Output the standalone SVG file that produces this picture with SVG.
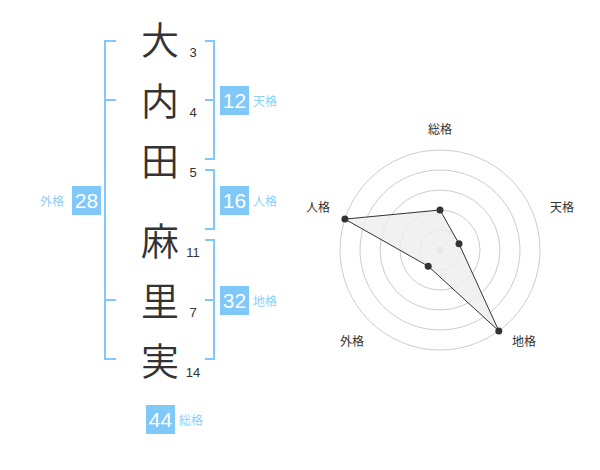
<svg xmlns="http://www.w3.org/2000/svg" width="600" height="470" viewBox="0 0 600 470">
<style>
.k{font-family:"Noto Sans CJK JP","Noto Sans CJK SC",sans-serif;font-size:38px;font-weight:350;fill:#333;text-anchor:middle}
.n{font-family:"Liberation Sans",Arial,sans-serif;font-size:13px;fill:#333;text-anchor:middle}
.br{fill:none;stroke:#80c8f8;stroke-width:2}
.bx{fill:#80c8f8}
.bt{font-family:"Liberation Sans",Arial,sans-serif;font-size:21px;fill:#fff;text-anchor:middle}
.lb{font-family:"Noto Sans CJK JP","Noto Sans CJK SC",sans-serif;font-size:12px;fill:#8ccff8}
.rl{font-family:"Noto Sans CJK JP","Noto Sans CJK SC",sans-serif;font-size:12px;fill:#333;text-anchor:middle}
.ring{fill:none;stroke:#ccc;stroke-width:1}
.pt{fill:#333}
</style>
<rect width="600" height="470" fill="#fff"/>
<g id="chars">
<text class="k" x="160" y="54">大</text>
<text class="k" x="160" y="115">内</text>
<text class="k" x="160" y="175">田</text>
<text class="k" x="160" y="255">麻</text>
<text class="k" x="160" y="315">里</text>
<text class="k" x="160" y="375">実</text>
</g>
<g id="strokes">
<text class="n" x="193" y="57">3</text>
<text class="n" x="193" y="117">4</text>
<text class="n" x="193" y="177">5</text>
<text class="n" x="193" y="257">11</text>
<text class="n" x="193" y="317">7</text>
<text class="n" x="193" y="377">14</text>
</g>
<g id="connectors">
<path class="br" d="M116,41 H105 V359 H116 M105,100 H116 M105,300 H116"/>
<path class="br" d="M205,41 H214 V159 H205 M214,100 H205"/>
<path class="br" d="M205,170 H214 V229 H205"/>
<path class="br" d="M205,240 H214 V359 H205 M214,300 H205"/>
</g>
<g id="tenkaku">
<rect class="bx" x="220" y="86" width="29" height="29"/>
<text class="bt" x="234.5" y="108">12</text>
<text class="lb" x="253" y="106">天格</text>
</g>
<g id="jinkaku">
<rect class="bx" x="220" y="186" width="29" height="29"/>
<text class="bt" x="234.5" y="208">16</text>
<text class="lb" x="253" y="206">人格</text>
</g>
<g id="chikaku">
<rect class="bx" x="220" y="286" width="29" height="29"/>
<text class="bt" x="234.5" y="308">32</text>
<text class="lb" x="253" y="306">地格</text>
</g>
<g id="gaikaku">
<rect class="bx" x="72" y="186" width="29" height="29"/>
<text class="bt" x="86.5" y="208">28</text>
<text class="lb" x="40" y="206">外格</text>
</g>
<g id="soukaku">
<rect class="bx" x="146" y="405" width="29" height="29"/>
<text class="bt" x="160.5" y="427">44</text>
<text class="lb" x="179" y="425">総格</text>
</g>
<g id="radar">
<circle class="ring" cx="440" cy="250" r="20"/>
<circle class="ring" cx="440" cy="250" r="40"/>
<circle class="ring" cx="440" cy="250" r="60"/>
<circle class="ring" cx="440" cy="250" r="80"/>
<circle class="ring" cx="440" cy="250" r="100"/>
<circle cx="440" cy="250" r="3.5" fill="#ccc"/>
<polygon points="440,210 459,243.8 498.8,330.9 428.2,266.2 344.9,219.1" fill="#eee" fill-opacity="0.8" stroke="#333" stroke-width="1"/>
<circle class="pt" cx="440" cy="210" r="3.5"/>
<circle class="pt" cx="459" cy="243.8" r="3.5"/>
<circle class="pt" cx="498.8" cy="330.9" r="3.5"/>
<circle class="pt" cx="428.2" cy="266.2" r="3.5"/>
<circle class="pt" cx="344.9" cy="219.1" r="3.5"/>
<text class="rl" x="440" y="134">総格</text>
<text class="rl" x="562" y="212">天格</text>
<text class="rl" x="524" y="346">地格</text>
<text class="rl" x="352" y="346">外格</text>
<text class="rl" x="318" y="212">人格</text>
</g>
</svg>
